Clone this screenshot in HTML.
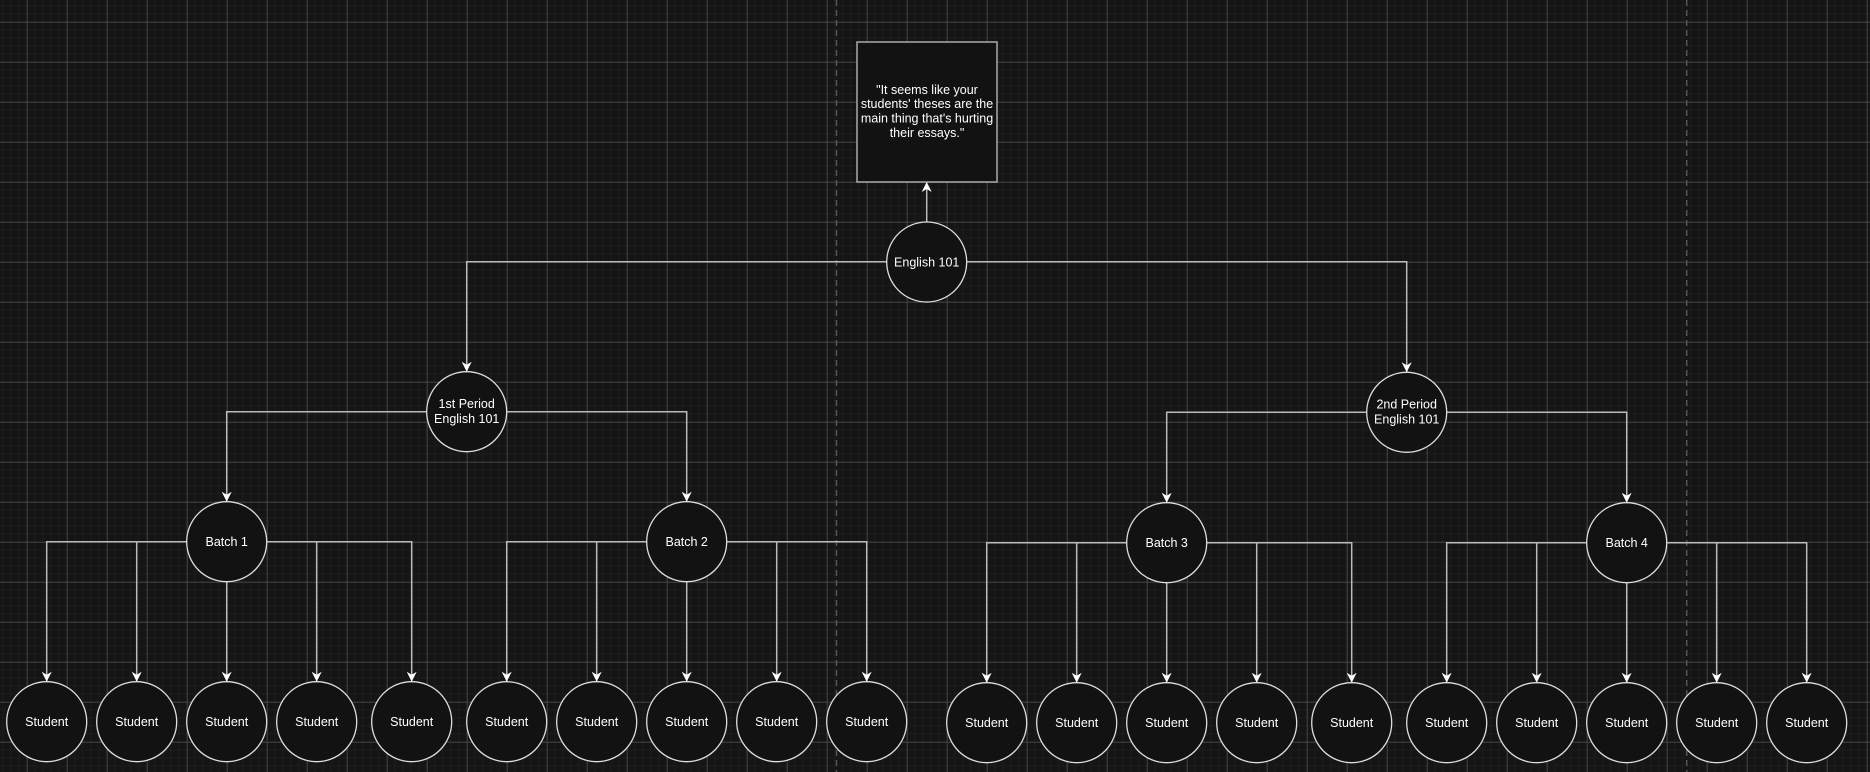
<!DOCTYPE html>
<html><head><meta charset="utf-8"><style>
html,body{margin:0;padding:0;background:#151515;}
svg{display:block;}
text{font-family:"Liberation Sans",Arial,sans-serif;fill:#fff;font-size:12.5px;text-anchor:middle;}
</style></head><body>
<svg width="1870" height="772" viewBox="0 0 1870 772" xmlns="http://www.w3.org/2000/svg">
<defs>
<pattern id="minor" x="26.7" y="21.7" width="8" height="8" patternUnits="userSpaceOnUse">
<path d="M0 0H8M0 0V8" stroke="#222" stroke-width="1" fill="none"/>
</pattern>
<pattern id="major" x="26.7" y="21.7" width="40" height="40" patternUnits="userSpaceOnUse">
<path d="M0 0.5H40M0.5 0V40" stroke="#444" stroke-width="1" fill="none"/>
</pattern>
<marker id="ar" viewBox="0 0 10 10" refX="10" refY="5" markerWidth="10" markerHeight="10" markerUnits="userSpaceOnUse" orient="auto">
<path d="M0 0L10 5L0 10L3 5Z" fill="#fff"/>
</marker>
</defs>
<rect width="1870" height="772" fill="#151515"/>
<rect width="1870" height="772" fill="url(#minor)"/>
<rect width="1870" height="772" fill="url(#major)"/>
<g stroke="#555" stroke-width="1.5" stroke-dasharray="6 4">
<line x1="836.5" y1="0" x2="836.5" y2="772"/>
<line x1="1686.7" y1="0" x2="1686.7" y2="772"/>
</g>
<g stroke="#bbb" stroke-width="1.5" fill="none" marker-end="url(#ar)">
<path d="M926.7 222V182"/>
<path d="M886.7 261.7H466.7V371.7"/>
<path d="M966.7 261.7H1406.7V372.3"/>
<path d="M426.7 411.7H226.7V501.7"/>
<path d="M506.7 411.7H686.7V501.7"/>
<path d="M1366.7 412.3H1166.7V502.7"/>
<path d="M1446.7 412.3H1626.7V502.7"/>
<path d="M186.7 541.7H46.7V681.7"/><path d="M136.7 541.7V681.7"/><path d="M226.7 581.7V681.7"/><path d="M316.7 541.7V681.7"/><path d="M266.7 541.7H411.7V681.7"/>
<path d="M646.7 541.7H506.7V681.7"/><path d="M596.7 541.7V681.7"/><path d="M686.7 581.7V681.7"/><path d="M776.7 541.7V681.7"/><path d="M726.7 541.7H866.7V681.7"/>
<path d="M1126.7 542.7H986.7V682.7"/><path d="M1076.7 542.7V682.7"/><path d="M1166.7 582.7V682.7"/><path d="M1256.7 542.7V682.7"/><path d="M1206.7 542.7H1351.7V682.7"/>
<path d="M1586.7 542.7H1446.7V682.7"/><path d="M1536.7 542.7V682.7"/><path d="M1626.7 582.7V682.7"/><path d="M1716.7 542.7V682.7"/><path d="M1666.7 542.7H1806.7V682.7"/>
</g>
<rect x="857" y="42" width="140" height="140" fill="#121212" stroke="#aaa" stroke-width="1.5"/>
<text x="927" y="94">"It seems like your</text>
<text x="927" y="108">students' theses are the</text>
<text x="927" y="122.5">main thing that's hurting</text>
<text x="927" y="137">their essays."</text>
<g fill="#121212" stroke="#ddd" stroke-width="1.3">
<circle cx="926.7" cy="262" r="40"/>
<circle cx="466.7" cy="411.7" r="40"/>
<circle cx="1406.7" cy="412.3" r="40"/>
<circle cx="226.7" cy="541.7" r="40"/><circle cx="686.7" cy="541.7" r="40"/>
<circle cx="1166.7" cy="542.7" r="40"/><circle cx="1626.7" cy="542.7" r="40"/>
<circle cx="46.7" cy="721.7" r="40"/><circle cx="136.7" cy="721.7" r="40"/><circle cx="226.7" cy="721.7" r="40"/><circle cx="316.7" cy="721.7" r="40"/><circle cx="411.7" cy="721.7" r="40"/>
<circle cx="506.7" cy="721.7" r="40"/><circle cx="596.7" cy="721.7" r="40"/><circle cx="686.7" cy="721.7" r="40"/><circle cx="776.7" cy="721.7" r="40"/><circle cx="866.7" cy="721.7" r="40"/>
<circle cx="986.7" cy="722.7" r="40"/><circle cx="1076.7" cy="722.7" r="40"/><circle cx="1166.7" cy="722.7" r="40"/><circle cx="1256.7" cy="722.7" r="40"/><circle cx="1351.7" cy="722.7" r="40"/>
<circle cx="1446.7" cy="722.7" r="40"/><circle cx="1536.7" cy="722.7" r="40"/><circle cx="1626.7" cy="722.7" r="40"/><circle cx="1716.7" cy="722.7" r="40"/><circle cx="1806.7" cy="722.7" r="40"/>
</g>
<text x="926.7" y="266.5">English 101</text>
<text x="466.7" y="408">1st Period</text><text x="466.7" y="423">English 101</text>
<text x="1406.7" y="408.5">2nd Period</text><text x="1406.7" y="423.5">English 101</text>
<text x="226.7" y="546">Batch 1</text><text x="686.7" y="546">Batch 2</text>
<text x="1166.7" y="547">Batch 3</text><text x="1626.7" y="547">Batch 4</text>
<g>
<text x="46.7" y="726">Student</text><text x="136.7" y="726">Student</text><text x="226.7" y="726">Student</text><text x="316.7" y="726">Student</text><text x="411.7" y="726">Student</text>
<text x="506.7" y="726">Student</text><text x="596.7" y="726">Student</text><text x="686.7" y="726">Student</text><text x="776.7" y="726">Student</text><text x="866.7" y="726">Student</text>
<text x="986.7" y="727">Student</text><text x="1076.7" y="727">Student</text><text x="1166.7" y="727">Student</text><text x="1256.7" y="727">Student</text><text x="1351.7" y="727">Student</text>
<text x="1446.7" y="727">Student</text><text x="1536.7" y="727">Student</text><text x="1626.7" y="727">Student</text><text x="1716.7" y="727">Student</text><text x="1806.7" y="727">Student</text>
</g>
</svg>
</body></html>
